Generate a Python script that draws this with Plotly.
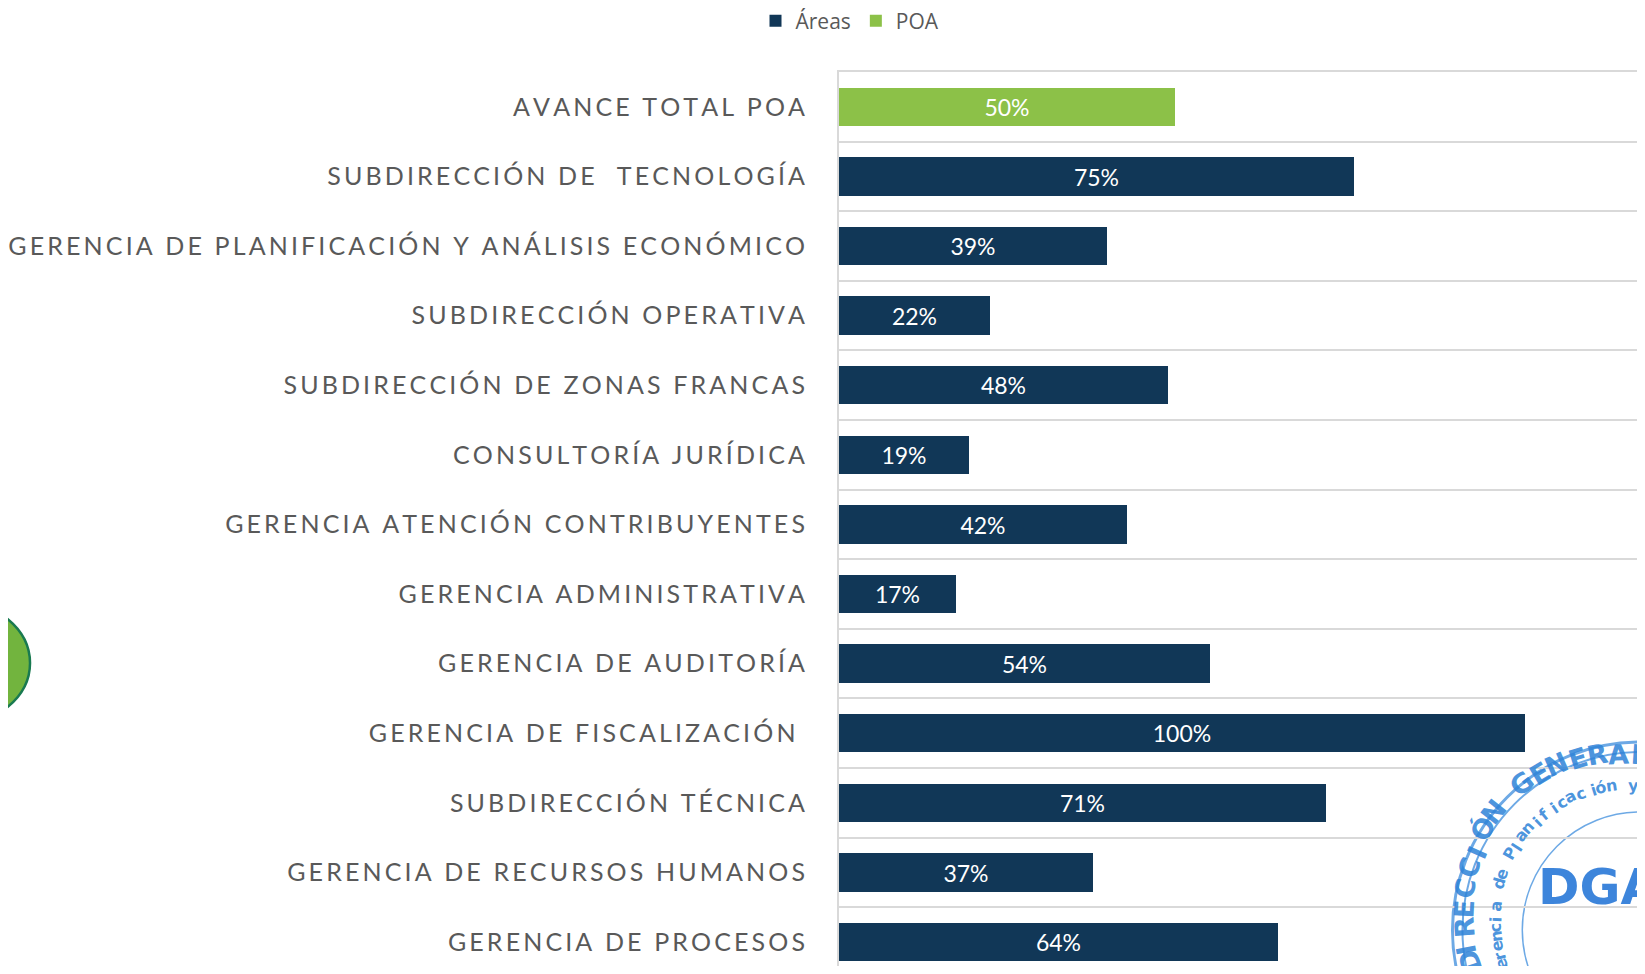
import math
import plotly.graph_objects as go

# ---------------- data ----------------
categories = [
    "AVANCE TOTAL POA",
    "SUBDIRECCIÓN DE  TECNOLOGÍA",
    "GERENCIA DE PLANIFICACIÓN Y ANÁLISIS ECONÓMICO",
    "SUBDIRECCIÓN OPERATIVA",
    "SUBDIRECCIÓN DE ZONAS FRANCAS",
    "CONSULTORÍA JURÍDICA",
    "GERENCIA ATENCIÓN CONTRIBUYENTES",
    "GERENCIA ADMINISTRATIVA",
    "GERENCIA DE AUDITORÍA",
    "GERENCIA DE FISCALIZACIÓN ",
    "SUBDIRECCIÓN TÉCNICA",
    "GERENCIA DE RECURSOS HUMANOS",
    "GERENCIA DE PROCESOS",
]
poa_categories = ["AVANCE TOTAL POA"]
poa_values = [0.49]
poa_labels = ["50%"]
area_categories = categories[1:]
area_values = [0.75, 0.39, 0.22, 0.48, 0.19, 0.42, 0.17, 0.54, 1.00, 0.71, 0.37, 0.64]

NAVY = "#113757"
GREEN = "#8cc148"
GRAY_TXT = "#595959"
GRID = "#d9d9d9"
STAMP = "rgba(45,130,215,0.85)"

OFF = 8                      # page body margin
W, H = 1645 - 2 * OFF, 974 - 2 * OFF
L, T = 837 - OFF, 72 - OFF
PW, PH = W - L, H - T
UNIT_X = 688                 # px per 100 %
UNIT_Y = 69.6                # px per category band


def spaced(s):
    return "\u2009".join("\u00a0" if c == " " else c for c in s)


pos = {c: i for i, c in enumerate(categories)}

fig = go.Figure()
fig.add_trace(go.Bar(
    name="Áreas", orientation="h",
    x=area_values, y=[pos[c] for c in area_categories],
    marker=dict(color=NAVY, line=dict(width=0)),
    width=0.55,
    texttemplate="%{x:.0%}", textposition="inside", insidetextanchor="middle",
    textfont=dict(family="Lato", size=23, color="white"),
))
fig.add_trace(go.Bar(
    name="POA", orientation="h",
    x=poa_values, y=[pos[c] for c in poa_categories],
    marker=dict(color=GREEN, line=dict(width=0)),
    width=0.55,
    text=poa_labels, texttemplate="%{text}",
    textposition="inside", insidetextanchor="middle",
    textfont=dict(family="Lato", size=23, color="white"),
))


def px_x(px):  # page px -> paper x
    return (px - OFF - L) / PW


def px_y(py):  # page px -> paper y
    return (H - (py - OFF)) / PH


shapes = []
# green circle decoration at left
shapes.append(dict(type="circle", xref="paper", yref="paper", layer="above",
                   x0=px_x(-126), x1=px_x(26), y0=px_y(725), y1=px_y(601),
                   fillcolor="#72b43e", line=dict(color="#197a50", width=2.5)))
# stamp decoration bottom right
cx, cy = 1640, 930
for r, w in [(188, 3), (178, 2), (118, 1.5)]:
    shapes.append(dict(type="circle", xref="paper", yref="paper", layer="below",
                       x0=px_x(cx - r), x1=px_x(cx + r), y0=px_y(cy + r), y1=px_y(cy - r),
                       line=dict(color="rgba(60,140,220,0.75)", width=w)))

annotations = []
stamp_text = "DIRECCIÓN GENERAL"
for i, ch in enumerate(stamp_text):
    th = 198 - i * 7.0
    r = 158
    x = cx + r * math.cos(math.radians(th))
    y = cy - r * math.sin(math.radians(th))
    annotations.append(dict(xref="paper", yref="paper", x=px_x(x), y=px_y(y),
                            text="<b>" + ch + "</b>", showarrow=False, textangle=90 - th,
                            font=dict(family="DejaVu Sans", size=27, color=STAMP)))
inner_text = "Gerencia de Planificación y A"
for i, ch in enumerate(inner_text):
    th = 204 - i * 4.4
    r = 133
    x = cx + r * math.cos(math.radians(th))
    y = cy - r * math.sin(math.radians(th))
    annotations.append(dict(xref="paper", yref="paper", x=px_x(x), y=px_y(y),
                            text="<b>" + ch + "</b>", showarrow=False, textangle=90 - th,
                            font=dict(family="DejaVu Sans", size=16, color=STAMP)))
annotations.append(dict(xref="paper", yref="paper", x=px_x(1536), y=px_y(918), xanchor="left",
                        text="<b>DGA</b>", showarrow=False,
                        font=dict(family="DejaVu Sans", size=50, color="rgba(40,120,215,0.9)")))

fig.update_layout(
    width=W, height=H,
    margin=dict(l=L, r=0, t=T, b=0, pad=0),
    paper_bgcolor="white", plot_bgcolor="white",
    barmode="overlay",
    bargap=0,
    showlegend=True,
    legend=dict(orientation="h", xref="container", yref="container",
                x=(850 - OFF) / W, xanchor="center", y=1 - (21 - OFF) / H, yanchor="middle",
                font=dict(family="Open Sans", size=21, color=GRAY_TXT),
                itemwidth=30, tracegroupgap=0,
                itemclick=False, traceorder="normal"),
    xaxis=dict(range=[0, PW / UNIT_X], showgrid=False, zeroline=False,
               showticklabels=False, ticks="", showline=True, side="top",
               linecolor=GRID, linewidth=2, fixedrange=True),
    yaxis=dict(range=[-0.5 + PH / UNIT_Y, -0.5], tickmode="array",
               tickvals=list(range(len(categories))),
               ticktext=[spaced(c) for c in categories],
               tickfont=dict(family="Lato", size=25, color=GRAY_TXT),
               showgrid=False, zeroline=False,
               ticks="outside", ticklen=27, tickcolor="rgba(0,0,0,0)",
               showline=True, linecolor=GRID, linewidth=2,
               minor=dict(tickmode="array",
                          tickvals=[i + 0.5 for i in range(-1, len(categories))],
                          showgrid=True, gridcolor=GRID, gridwidth=2, ticks=""),
               fixedrange=True),
    shapes=shapes,
    annotations=annotations,
)

fig.write_html("out.html")
